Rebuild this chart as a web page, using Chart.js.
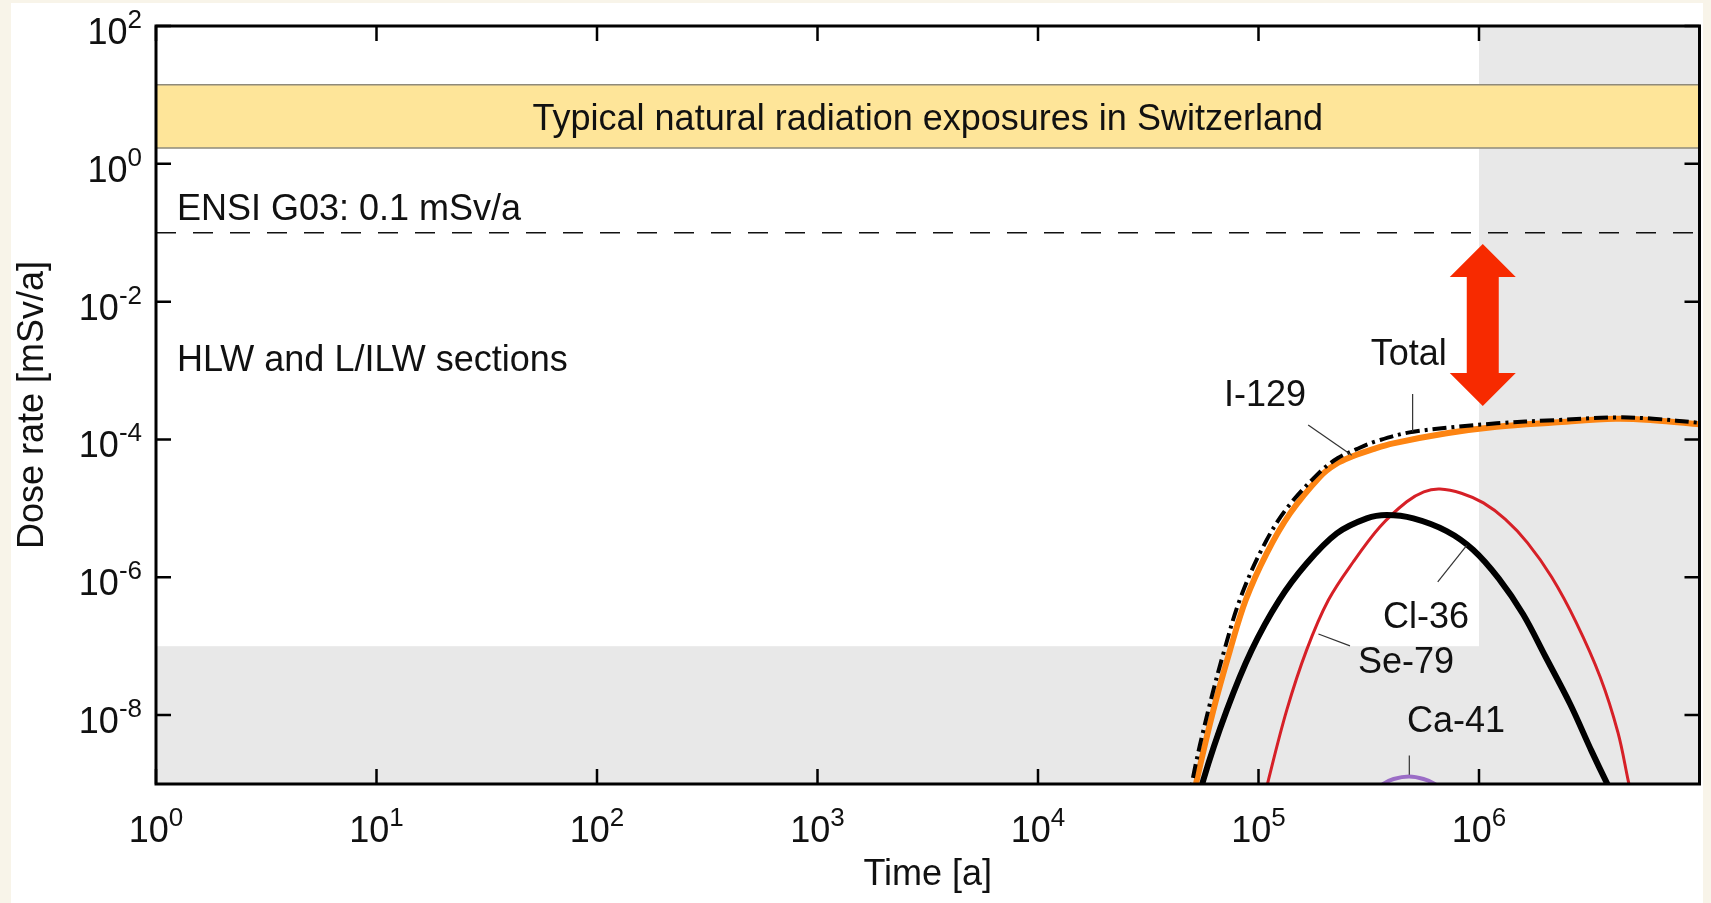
<!DOCTYPE html>
<html>
<head>
<meta charset="utf-8">
<script src="https://cdn.jsdelivr.net/npm/chart.js@4.4.0/dist/chart.umd.min.js"></script>
<style>
  html, body { margin: 0; padding: 0; background: #f8f4e9; overflow: hidden; }
  #wrap { position: absolute; left: 0; top: 0; width: 1711px; height: 903px; }
</style>
</head>
<body>
<div id="wrap"><canvas id="graficoDose" width="1711" height="903"></canvas></div>
<script>
// dados (tempo em anos, dose em mSv/a)
const totalTime = [4.9e4, 5.02e4, 5.92e4, 7.0e4, 8.28e4, 1.052e5, 1.343e5, 1.901e5, 2.291e5, 2.786e5, 3.467e5, 5.035e5, 1.202e6, 2.188e6, 4.169e6, 6.166e6, 1e7];
const totalDose = [5e-10, 1.14e-9, 1.18e-8, 8.77e-8, 5.0e-7, 2.82e-6, 1.0e-5, 3.39e-5, 5.37e-5, 7.24e-5, 9.55e-5, 1.294e-4, 1.714e-4, 1.905e-4, 2.09e-4, 2.0e-4, 1.74e-4];

const i129Time = [5.01e4, 5.25e4, 6.24e4, 7.43e4, 8.75e4, 1.089e5, 1.39e5, 1.901e5, 2.239e5, 2.692e5, 3.311e5, 4.083e5, 7.13e5, 1.202e6, 2.188e6, 4.169e6, 6.166e6, 1e7];
const i129Dose = [5e-10, 1.14e-9, 1.18e-8, 8.77e-8, 4.67e-7, 2.22e-6, 8.45e-6, 2.88e-5, 4.37e-5, 5.75e-5, 7.24e-5, 8.77e-5, 1.227e-4, 1.528e-4, 1.758e-4, 1.995e-4, 1.905e-4, 1.66e-4];

const se79Time = [5.37e4, 5.62e4, 7.18e4, 9.31e4, 1.242e5, 1.652e5, 2.265e5, 3.097e5, 3.81e5, 5.035e5, 7.13e5, 9.4e5, 1.23e6, 1.585e6, 1.995e6, 2.59e6, 3.24e6, 3.85e6, 4.27e6];
const se79Dose = [5e-10, 1.14e-9, 1.18e-8, 8.77e-8, 4.67e-7, 1.585e-6, 4.34e-6, 7.16e-6, 8.0e-6, 7.16e-6, 4.68e-6, 2.51e-6, 9.55e-7, 2.9e-7, 7.2e-8, 1.45e-8, 3.0e-9, 9.5e-10, 5e-10];

const cl36Time = [1.047e5, 1.109e5, 1.343e5, 1.652e5, 2.075e5, 2.692e5, 3.556e5, 4.7e5, 5.62e5, 6.65e5, 8.32e5, 1.047e6, 1.318e6, 1.66e6, 2.138e6, 2.754e6, 3.548e6, 4.266e6, 4.75e6, 5.01e6];
const cl36Dose = [5e-10, 1.14e-9, 1.18e-8, 8.77e-8, 4.67e-7, 1.68e-6, 5.41e-6, 1.247e-5, 1.74e-5, 1.905e-5, 1.66e-5, 1.2e-5, 6.92e-6, 3.16e-6, 1e-6, 2.24e-7, 3.55e-8, 5.62e-9, 1.12e-9, 5e-10];

const ca41Time = [3.4e5, 3.68e5, 4.1e5, 4.82e5, 5.6e5, 6.3e5, 6.8e5];
const ca41Dose = [8e-10, 1e-9, 1.18e-9, 1.28e-9, 1.18e-9, 1e-9, 8e-10];

// eixos
const xTickExp = [0, 1, 2, 3, 4, 5, 6];
const yTickExp = [2, 0, -2, -4, -6, -8];

// faixas e limites
const bandLow = 1.7;
const bandHigh = 14;
const limitDose = 0.1;
const greyFromTime = 1e6;
const greyBelowDose = 1e-7;

const FONTE = '"Liberation Sans", Arial, Helvetica, sans-serif';
const TAM = 36;

function pontos(tempos, doses) {
    return tempos.map((t, i) => ({ x: t, y: doses[i] }));
}

// rótulos das curvas (posição em unidades dos dados)
const rotulos = [
    { texto: "Total", t: 4.8e5, d: 1.7e-3, linha: [[5.0e5, 4.56e-4], [5.0e5, 1.3e-4]] },
    { texto: "I-129", t: 1.07e5, d: 4.2e-4, linha: [[1.68e5, 1.62e-4], [2.65e5, 5.9e-5]] },
    { texto: "Cl-36", t: 5.75e5, d: 2.56e-7, linha: [[6.5e5, 8.6e-7], [8.8e5, 2.9e-6]] },
    { texto: "Se-79", t: 4.67e5, d: 5.7e-8, linha: [[2.6e5, 1.01e-7], [1.87e5, 1.5e-7]] },
    { texto: "Ca-41", t: 7.87e5, d: 7.8e-9, linha: [[4.83e5, 2.6e-9], [4.83e5, 1.36e-9]] }
];
const seta = { t: 1.04e6, topo: 0.0686, base: 3.05e-4 };

function desenharPotencia(ctx, exp, x, y, alinhamento) {
    const base = "10", sup = String(exp);
    ctx.font = TAM + "px " + FONTE;
    const w1 = ctx.measureText(base).width;
    ctx.font = "26px " + FONTE;
    const w2 = ctx.measureText(sup).width;
    let x0;
    if (alinhamento === "right") x0 = x - w1 - w2;
    else x0 = x - (w1 + w2) / 2;
    ctx.textAlign = "left";
    ctx.textBaseline = "alphabetic";
    ctx.font = TAM + "px " + FONTE;
    ctx.fillText(base, x0, y);
    ctx.font = "26px " + FONTE;
    ctx.fillText(sup, x0 + w1, y - 16);
}

const fundoPlugin = {
    id: "fundo",
    beforeDraw(chart) {
        const ctx = chart.ctx;
        const { left, right, top, bottom } = chart.chartArea;
        const sx = chart.scales.x, sy = chart.scales.y;
        ctx.save();
        ctx.fillStyle = "#f8f4e9";
        ctx.fillRect(0, 0, chart.width, chart.height);
        ctx.fillStyle = "#ffffff";
        ctx.fillRect(11, 3, 1692, 900);

        // regiões cinzentas
        ctx.fillStyle = "#e8e8e8";
        const gx = sx.getPixelForValue(greyFromTime);
        ctx.fillRect(gx, top, right - gx, bottom - top);
        const gy = sy.getPixelForValue(greyBelowDose);
        ctx.fillRect(left, gy, right - left, bottom - gy);

        // faixa amarela
        const b1 = sy.getPixelForValue(bandHigh);
        const b2 = sy.getPixelForValue(bandLow);
        ctx.fillStyle = "#fee599";
        ctx.fillRect(left, b1, right - left, b2 - b1);
        ctx.strokeStyle = "#8f8a7a";
        ctx.lineWidth = 1.5;
        ctx.beginPath();
        ctx.moveTo(left, b1); ctx.lineTo(right, b1);
        ctx.moveTo(left, b2); ctx.lineTo(right, b2);
        ctx.stroke();
        ctx.fillStyle = "#111";
        ctx.font = TAM + "px " + FONTE;
        ctx.textAlign = "center";
        ctx.textBaseline = "alphabetic";
        ctx.fillText("Typical natural radiation exposures in Switzerland", (left + right) / 2, (b1 + b2) / 2 + 14);

        // limite ENSI
        const ly = sy.getPixelForValue(limitDose);
        ctx.strokeStyle = "#111";
        ctx.lineWidth = 1.6;
        ctx.setLineDash([20, 17]);
        ctx.beginPath();
        ctx.moveTo(left, ly); ctx.lineTo(right, ly);
        ctx.stroke();
        ctx.setLineDash([]);
        ctx.textAlign = "left";
        ctx.fillText("ENSI G03: 0.1 mSv/a", left + 21, ly - 12.5);
        ctx.fillText("HLW and L/ILW sections", left + 21, sy.getPixelForValue(1.5e-3) + 12.5);
        ctx.restore();
    }
};

const molduraPlugin = {
    id: "moldura",
    afterDraw(chart) {
        const ctx = chart.ctx;
        const { left, right, top, bottom } = chart.chartArea;
        const sx = chart.scales.x, sy = chart.scales.y;
        ctx.save();

        // linhas de chamada e rótulos
        ctx.strokeStyle = "#333";
        ctx.lineWidth = 1.2;
        ctx.fillStyle = "#111";
        ctx.font = TAM + "px " + FONTE;
        ctx.textAlign = "center";
        ctx.textBaseline = "middle";
        rotulos.forEach((r) => {
            ctx.beginPath();
            ctx.moveTo(sx.getPixelForValue(r.linha[0][0]), sy.getPixelForValue(r.linha[0][1]));
            ctx.lineTo(sx.getPixelForValue(r.linha[1][0]), sy.getPixelForValue(r.linha[1][1]));
            ctx.stroke();
            ctx.fillText(r.texto, sx.getPixelForValue(r.t), sy.getPixelForValue(r.d));
        });

        // seta dupla
        const ax = sx.getPixelForValue(seta.t);
        const ay1 = sy.getPixelForValue(seta.topo);
        const ay2 = sy.getPixelForValue(seta.base);
        const cab = 33, meiaCab = 33, meioCorpo = 16;
        ctx.fillStyle = "#f72a00";
        ctx.beginPath();
        ctx.moveTo(ax, ay1);
        ctx.lineTo(ax + meiaCab, ay1 + cab);
        ctx.lineTo(ax + meioCorpo, ay1 + cab);
        ctx.lineTo(ax + meioCorpo, ay2 - cab);
        ctx.lineTo(ax + meiaCab, ay2 - cab);
        ctx.lineTo(ax, ay2);
        ctx.lineTo(ax - meiaCab, ay2 - cab);
        ctx.lineTo(ax - meioCorpo, ay2 - cab);
        ctx.lineTo(ax - meioCorpo, ay1 + cab);
        ctx.lineTo(ax - meiaCab, ay1 + cab);
        ctx.closePath();
        ctx.fill();

        // moldura e marcas
        ctx.strokeStyle = "#000";
        ctx.lineWidth = 3;
        ctx.strokeRect(left, top, right - left, bottom - top);
        ctx.lineWidth = 2.5;
        ctx.beginPath();
        xTickExp.forEach((e) => {
            const px = sx.getPixelForValue(Math.pow(10, e));
            ctx.moveTo(px, bottom); ctx.lineTo(px, bottom - 15);
            ctx.moveTo(px, top); ctx.lineTo(px, top + 15);
        });
        yTickExp.forEach((e) => {
            const py = sy.getPixelForValue(Math.pow(10, e));
            ctx.moveTo(left, py); ctx.lineTo(left + 15, py);
            ctx.moveTo(right, py); ctx.lineTo(right - 15, py);
        });
        ctx.stroke();

        // rótulos dos eixos
        ctx.fillStyle = "#111";
        xTickExp.forEach((e) => {
            desenharPotencia(ctx, e, sx.getPixelForValue(Math.pow(10, e)), bottom + 58, "center");
        });
        yTickExp.forEach((e) => {
            desenharPotencia(ctx, e, left - 14, sy.getPixelForValue(Math.pow(10, e)) + 18, "right");
        });

        ctx.font = TAM + "px " + FONTE;
        ctx.textAlign = "center";
        ctx.textBaseline = "alphabetic";
        ctx.fillText("Time [a]", (left + right) / 2, 885);
        ctx.translate(43, (top + bottom) / 2);
        ctx.rotate(-Math.PI / 2);
        ctx.fillText("Dose rate [mSv/a]", 0, 0);
        ctx.restore();
    }
};

const estiloLinha = { showLine: true, pointRadius: 0, pointHoverRadius: 0, tension: 0.35, clip: 0 };

new Chart(document.getElementById("graficoDose"), {
    type: "scatter",
    data: {
        datasets: [
            Object.assign({ label: "Total", data: pontos(totalTime, totalDose), borderColor: "#000", borderWidth: 4, borderDash: [14, 5, 3, 5] }, estiloLinha),
            Object.assign({ label: "Se-79", data: pontos(se79Time, se79Dose), borderColor: "#000", borderWidth: 6 }, estiloLinha),
            Object.assign({ label: "Cl-36", data: pontos(cl36Time, cl36Dose), borderColor: "#d62027", borderWidth: 3 }, estiloLinha),
            Object.assign({ label: "Ca-41", data: pontos(ca41Time, ca41Dose), borderColor: "#9b6dc6", borderWidth: 4 }, estiloLinha),
            Object.assign({ label: "I-129", data: pontos(i129Time, i129Dose), borderColor: "#fd8412", borderWidth: 6 }, estiloLinha)
        ]
    },
    options: {
        responsive: false,
        animation: false,
        devicePixelRatio: 1,
        elements: { line: { capBezierPoints: false } },
        layout: { padding: { left: 156, top: 26, right: 11.5, bottom: 119 } },
        plugins: { legend: { display: false }, tooltip: { enabled: false } },
        scales: {
            x: { type: "logarithmic", min: 1, max: 1e7, display: false },
            y: { type: "logarithmic", min: 1e-9, max: 100, display: false }
        }
    },
    plugins: [fundoPlugin, molduraPlugin]
});
</script>
</body>
</html>
